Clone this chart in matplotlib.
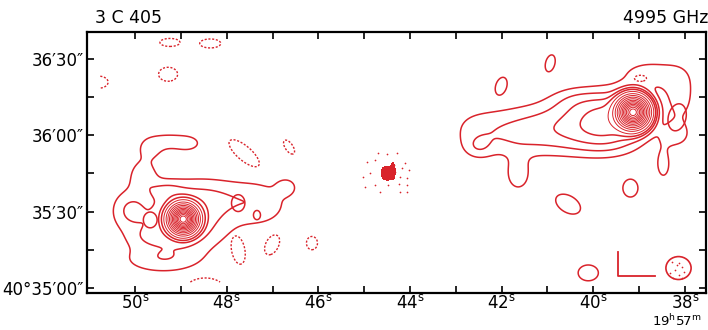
import numpy as np
import matplotlib
matplotlib.use('Agg')
import matplotlib.pyplot as plt
from matplotlib.patches import Ellipse

# map frame: RA seconds (of 19h57m) and Dec offset in arcsec from 40d35'00"
ra_lim = [51.05, 37.54]
dec_lim = [-2.0, 100.5]
ra_ticks = [50, 48, 46, 44, 42, 40, 38]
ra_labels = [r'50$^{\rm s}$', r'48$^{\rm s}$', r'46$^{\rm s}$', r'44$^{\rm s}$',
             r'42$^{\rm s}$', r'40$^{\rm s}$', r'38$^{\rm s}$']
dec_ticks = [0, 30, 60, 90]
dec_labels = ['40°35′00″', '35′30″', '36′00″', '36′30″']

# lobe components (gaussians): ra, dec, peak, sigma_ra, sigma_dec
# preceding lobe (right on the map)
r_ra = [39.13, 42.69, 42.14, 41.59, 41.05, 40.50, 39.96, 39.52,
        41.64, 38.76, 38.10, 38.21, 38.47, 40.61, 39.52, 42.51, 40.39]
r_dec = [69.0, 61.9, 60.8, 60.8, 61.9, 63.1, 65.1, 66.6,
         44.3, 84.0, 74.9, 60.0, 48.2, 63.9, 58.0, 55.3, 73.7]
r_amp = [100, 0.9, 1.0, 1.2, 1.1, 1.5, 2.8, 3.5,
         1.6, 1.35, 1.3, 1.2, 1.4, 0.9, 0.8, 1.1, 1.0]
r_sra = [0.197, 0.393, 0.393, 0.393, 0.393, 0.393, 0.393, 0.393,
         0.197, 0.546, 0.262, 0.262, 0.131, 0.873, 0.655, 0.218, 0.393]
r_sdec = [3.53, 6.66, 6.66, 6.66, 6.66, 6.66, 6.66, 6.66,
          4.7, 4.7, 7.84, 3.92, 4.7, 7.84, 5.49, 3.14, 3.92]
# following lobe (left on the map)
l_ra = [48.95, 48.95, 50.15, 49.83, 49.67, 49.28, 48.84, 48.25, 47.23, 46.70, 49.45,
        49.34, 49.78]
l_dec = [27.0, 26.7, 30.6, 44.3, 54.9, 57.6, 56.8, 36.1, 32.5, 39.6, 11.0,
         38.4, 19.6]
l_amp = [100, 3.0, 1.6, 1.6, 1.45, 1.45, 1.4, 1.25, 1.35, 1.5, 1.5,
         1.1, 0.9]
l_sra = [0.175, 0.699, 0.262, 0.218, 0.197, 0.262, 0.218, 0.699, 0.437, 0.153, 0.611,
         0.262, 0.306]
l_sdec = [3.14, 8.62, 5.49, 4.7, 3.14, 2.35, 2.35, 5.49, 6.27, 2.35, 3.92,
          2.74, 3.14]

lobe_levels = [1, 2, 3.3, 5]
ring_levels = [8, 13, 19, 26, 34, 43, 52, 61, 70, 79, 88, 96]

# small closed positive contours: ra, dec, half size ra, half size dec, tilt
isl_ra = [40.94, 42.01, 39.19, 40.55, 40.11, 38.17, 49.67, 47.75, 47.34]
isl_dec = [88.2, 79.2, 39.2, 32.9, 5.9, 67.0, 26.7, 33.3, 28.6]
isl_hra = [0.109, 0.13, 0.164, 0.27, 0.22, 0.20, 0.15, 0.146, 0.076]
isl_hdec = [3.3, 3.5, 3.5, 3.9, 3.1, 5.3, 3.1, 3.3, 1.8]
isl_rho = [-0.3, -0.3, 0, 0.4, 0, -0.2, 0, 0, 0]

# negative (dashed) contours
neg_ra = [49.24, 48.36, 49.28, 47.62, 46.64, 47.01, 46.14, 50.79, 38.97, 47.75, 48.47]
neg_dec = [96.4, 96.0, 83.9, 52.9, 55.3, 16.9, 17.6, 80.8, 82.3, 14.9, -1.6]
neg_hra = [0.218, 0.229, 0.207, 0.33, 0.12, 0.164, 0.12, 0.20, 0.13, 0.154, 0.46]
neg_hdec = [1.57, 1.76, 2.74, 5.3, 2.74, 3.9, 2.6, 2.35, 1.2, 5.5, 5.5]
neg_rho = [0, 0, 0, 0.75, 0.6, -0.4, 0, 0, 0, 0.3, 0]

# nucleus
core_ra = [44.50, 44.37]
core_dec = [45.1, 46.3]
core_sra = [0.11, 0.03]
core_sdec = [2.35, 2.4]
core_dot_ra = [44.69, 44.50, 44.29, 44.94, 44.76, 44.10, 44.18, 44.03, 45.02, 44.87, 44.21,
               44.07, 44.25, 44.47, 44.98, 44.76, 44.07, 44.65, 44.21, 44.07, 44.32, 44.36]
core_dot_dec = [52.8, 52.4, 52.8, 49.5, 50.2, 48.9, 46.9, 46.3, 43.6, 45.0, 43.6,
                43.0, 41.0, 40.4, 39.7, 40.4, 40.4, 37.8, 37.8, 37.8, 45.6, 48.2]

# beam and scale bar
beam_ra, beam_dec, beam_w, beam_h = 38.14, 7.8, 0.55, 9.0
beam_dot_ra = [38.28, 38.14, 38.06, 38.21, 38.32, 38.14, 38.03, 38.25, 38.06, 38.17]
beam_dot_dec = [10.3, 9.7, 8.3, 7.1, 5.8, 5.1, 6.4, 3.8, 4.0, 9.0]
bar_ra = [39.45, 39.45, 38.65]
bar_dec = [14.1, 4.7, 4.7]

red = '#d9232b'
k = np.sqrt(2 * np.log(2))


def field(xx, yy, x0, y0, amp, sx, sy, rho=None):
    if rho is None:
        rho = [0] * len(x0)
    out = np.zeros_like(xx)
    for i in range(len(x0)):
        dx = (xx - x0[i]) / sx[i]
        dy = (yy - y0[i]) / sy[i]
        r = rho[i]
        out += amp[i] * np.exp(-0.5 * (dx * dx - 2 * r * dx * dy + dy * dy) / (1 - r * r))
    return out


gx = np.linspace(37.54, 50.76, 1500)
gy = np.linspace(2.3, 100.5, 800)
xx, yy = np.meshgrid(gx, gy)

lobes = (field(xx, yy, r_ra, r_dec, r_amp, r_sra, r_sdec)
         + field(xx, yy, l_ra, l_dec, l_amp, l_sra, l_sdec))
isl = field(xx, yy, isl_ra, isl_dec, [2] * len(isl_ra),
            [h / k for h in isl_hra], [h / k for h in isl_hdec], isl_rho)
neg = field(xx, yy, neg_ra, neg_dec, [2] * len(neg_ra),
            [h / k for h in neg_hra], [h / k for h in neg_hdec], neg_rho)
core = field(xx, yy, core_ra, core_dec, [2, 1.5], core_sra, core_sdec)

fig = plt.figure(figsize=(7.08, 3.30), dpi=100)
ax = fig.add_axes([87 / 708, 1 - 293 / 330, (706 - 87) / 708, (293 - 32) / 330])

ax.contour(xx, yy, lobes, levels=lobe_levels, colors=red, linewidths=1.1)
ax.contour(xx, yy, lobes, levels=ring_levels, colors=red, linewidths=0.7)
ax.contour(xx, yy, isl, levels=[1], colors=red, linewidths=1.1)
ax.contour(xx, yy, neg, levels=[1], colors=red, linewidths=1.0, linestyles=[(0, (1.5, 1.2))])
ax.contourf(xx, yy, core, levels=[1, 1e3], colors=red)
ax.scatter(core_dot_ra, core_dot_dec, s=1.5, color=red, lw=0)

ax.add_patch(Ellipse((beam_ra, beam_dec), beam_w, beam_h, fc='none', ec=red, lw=1.2))
ax.scatter(beam_dot_ra, beam_dot_dec, s=1.5, color=red, lw=0)
ax.plot(bar_ra, bar_dec, color=red, lw=1.3)

ax.set_xlim(ra_lim)
ax.set_ylim(dec_lim)
ax.set_xticks(ra_ticks)
ax.set_xticklabels(ra_labels)
ax.set_xticks(np.arange(38, 51, 1), minor=True)
ax.set_yticks(dec_ticks)
ax.set_yticklabels(dec_labels)
ax.set_yticks([15, 45, 75], minor=True)
ax.tick_params(which='both', direction='in', length=5, width=1.2, top=True, right=True,
               labelsize=12, pad=2)
ax.tick_params(axis='x', pad=1)
for sp in ax.spines.values():
    sp.set_linewidth(1.6)

fig.text(95 / 708, 1 - 18 / 330, '3 C 405', fontsize=12.5, ha='left', va='center')
fig.text(1.0, 1 - 18 / 330, '4995 GHz', fontsize=12.5, ha='right', va='center')
fig.text(677 / 708, 1 / 330, r'19$^{\rm h}$57$^{\rm m}$', fontsize=9.5, ha='center', va='bottom')

plt.savefig('out.png', dpi=100)
plt.close('all')
